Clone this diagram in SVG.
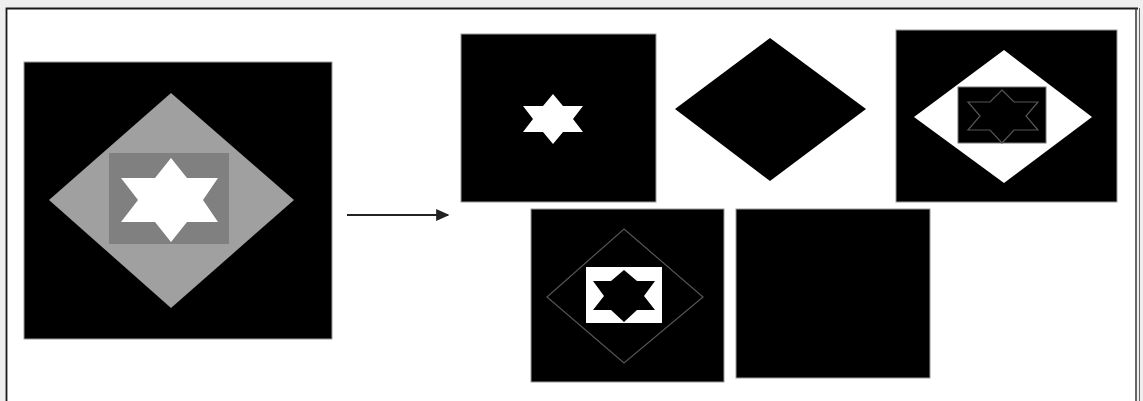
<svg xmlns="http://www.w3.org/2000/svg" width="1143" height="401" viewBox="0 0 1143 401">
<defs>
<style>
.panel{fill:#000;stroke:#9a9a9a;stroke-width:1}
.thin{fill:none;stroke:#555;stroke-width:1.2}
</style>
<marker id="ah" viewBox="0 0 10 10" refX="9" refY="5" markerWidth="6" markerHeight="6" orient="auto" markerUnits="strokeWidth">
<path d="M0,0.5 L10,5 L0,9.5 Z" fill="#222"/>
</marker>
</defs>
<rect x="0" y="0" width="1143" height="401" fill="#efefef"/>
<rect x="7" y="8.5" width="1130" height="400" fill="#fff"/>
<path d="M6.5,401 V8.5 H1138" fill="none" stroke="#1a1a1a" stroke-width="1.8"/>
<line x1="1136" y1="8" x2="1136" y2="401" stroke="#333" stroke-width="1.5"/>
<line x1="1139.5" y1="8" x2="1139.5" y2="401" stroke="#666" stroke-width="1"/>

<g id="input">
<rect class="panel" x="24" y="62" width="308" height="277"/>
<polygon points="171,93 294,200 171,308 49,200" fill="#a0a0a0"/>
<rect x="109" y="153" width="120" height="91" fill="#808080"/>
<polygon points="171,158 187,178 218,178 203,200 218,222 187,222 171,242 155,222 121,222 138,200 121,178 155,178" fill="#fff"/>
</g>

<g id="connectors">
<line x1="347" y1="215" x2="448" y2="215" stroke="#222" stroke-width="2.2" marker-end="url(#ah)"/>
</g>

<g id="out1">
<rect class="panel" x="461" y="34" width="195" height="168"/>
<polygon points="553,94 563,106 583,106 573,119 583,132 563,132 553,144 543,132 523,132 533,119 523,106 543,106" fill="#fff"/>
</g>

<g id="out2">
<polygon points="770,38 866,109 770,181 675,109" fill="#000"/>
</g>

<g id="out3">
<rect class="panel" x="896" y="30" width="221" height="172"/>
<polygon points="1004,50 1092,117 1004,183 914,117" fill="#fff"/>
<rect x="958" y="87" width="88" height="56" fill="#000" stroke="#777" stroke-width="1"/>
<polygon class="thin" points="1002,90 1014,102 1038,102 1026,116 1038,130 1014,130 1002,143 990,130 968,130 980,116 968,102 990,102"/>
</g>

<g id="out4">
<rect class="panel" x="531" y="209" width="193" height="173"/>
<polygon class="thin" points="624,229 703,297 624,363 547,297"/>
<rect x="586" y="267" width="76" height="56" fill="#fff"/>
<polygon points="624,270 637,281 655,281 644,296 655,310 637,310 624,322 611,310 593,310 604,296 593,281 611,281" fill="#000"/>
</g>

<g id="out5">
<rect class="panel" x="736" y="209" width="194" height="169"/>
</g>
</svg>
